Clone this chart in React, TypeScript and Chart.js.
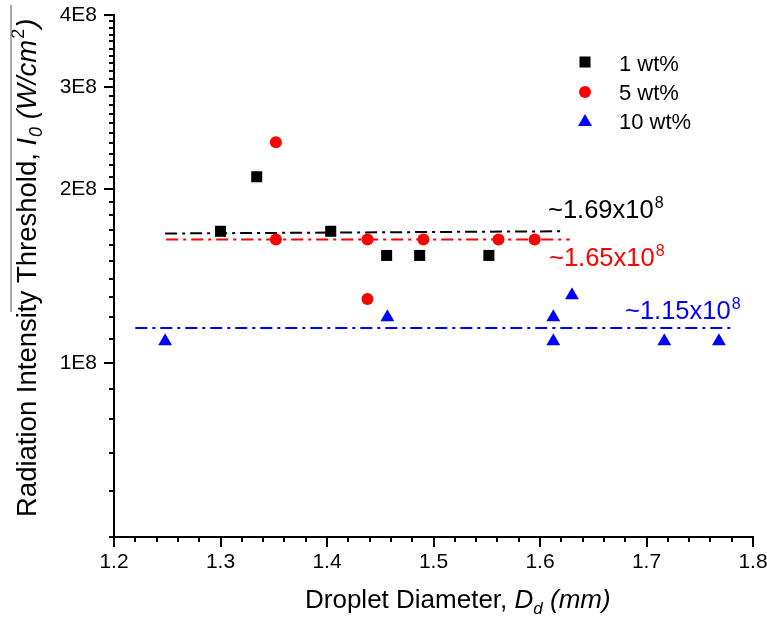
import React, { useEffect, useRef } from "react";
import { Chart, registerables } from "chart.js";

Chart.register(...registerables);

// ---- data ----
const wt1X = [1.3, 1.334, 1.4035, 1.456, 1.487, 1.552];
const wt1Y = [1.69e8, 2.1e8, 1.69e8, 1.535e8, 1.535e8, 1.535e8];

const wt5X = [1.352, 1.352, 1.438, 1.438, 1.4905, 1.561, 1.595];
const wt5Y = [2.41e8, 1.635e8, 1.635e8, 1.29e8, 1.635e8, 1.635e8, 1.635e8];

const wt10X = [1.248, 1.4567, 1.6125, 1.6125, 1.63, 1.7167, 1.768];
const wt10Y = [1.09e8, 1.2e8, 1.2e8, 1.09e8, 1.31e8, 1.09e8, 1.09e8];

const fit1X = [1.248, 1.619];
const fit1Y = [1.675e8, 1.69e8];
const fit5X = [1.249, 1.628];
const fit5Y = [1.635e8, 1.635e8];
const fit10X = [1.22, 1.781];
const fit10Y = [1.15e8, 1.15e8];

const seriesNames = ["1 wt%", "5 wt%", "10 wt%"];
const fitLabels = ["~1.69x10", "~1.65x10", "~1.15x10"];
const fitExponent = "8";

const xMajorTicks = [1.2, 1.3, 1.4, 1.5, 1.6, 1.7, 1.8];
const yMajorTicks = [1e8, 2e8, 3e8, 4e8];
const yTickLabels = ["1E8", "2E8", "3E8", "4E8"];
const yMinorTicks = [
  5e7, 6e7, 7e7, 8e7, 9e7, 1.1e8, 1.2e8, 1.3e8, 1.4e8, 1.5e8, 1.6e8, 1.7e8,
  1.8e8, 1.9e8, 2.1e8, 2.2e8, 2.3e8, 2.4e8, 2.5e8, 2.6e8, 2.7e8, 2.8e8, 2.9e8,
  3.1e8, 3.2e8, 3.3e8, 3.4e8, 3.5e8, 3.6e8, 3.7e8, 3.8e8, 3.9e8,
];

const FONT = "'Liberation Sans', Arial, Helvetica, sans-serif";
const BLACK = "#000000";
const RED = "#ff0000";
const BLUE = "#0000ff";

const toPts = (xs: number[], ys: number[]) => xs.map((x, i) => ({ x, y: ys[i] }));

const decorPlugin = {
  id: "decor",
  afterDraw(chart: any) {
    const ctx = chart.ctx as CanvasRenderingContext2D;
    const xs = chart.scales.x;
    const ys = chart.scales.y;
    const area = chart.chartArea;
    ctx.save();

    // tick marks (outward)
    ctx.strokeStyle = BLACK;
    ctx.lineWidth = 2;
    ctx.beginPath();
    xMajorTicks.forEach((v) => {
      const px = Math.round(xs.getPixelForValue(v));
      ctx.moveTo(px, area.bottom);
      ctx.lineTo(px, area.bottom + 10);
    });
    for (let i = 0; i < 30; i++) {
      const v = 1.2 + i * 0.02;
      if (i % 5 === 0) continue;
      const px = Math.round(xs.getPixelForValue(v));
      ctx.moveTo(px, area.bottom);
      ctx.lineTo(px, area.bottom + 5);
    }
    yMajorTicks.forEach((v) => {
      const py = Math.round(ys.getPixelForValue(v));
      ctx.moveTo(area.left, py);
      ctx.lineTo(area.left - 10, py);
    });
    yMinorTicks.forEach((v) => {
      const py = Math.round(ys.getPixelForValue(v));
      ctx.moveTo(area.left, py);
      ctx.lineTo(area.left - 5, py);
    });
    ctx.stroke();

    // legend
    const lx = 585;
    ctx.fillStyle = BLACK;
    ctx.fillRect(lx - 5.5, 62 - 5.5, 11, 11);
    ctx.fillStyle = RED;
    ctx.beginPath();
    ctx.arc(lx, 92, 6, 0, Math.PI * 2);
    ctx.fill();
    ctx.fillStyle = BLUE;
    ctx.beginPath();
    ctx.moveTo(lx, 114);
    ctx.lineTo(lx + 7, 126);
    ctx.lineTo(lx - 7, 126);
    ctx.closePath();
    ctx.fill();
    ctx.fillStyle = BLACK;
    ctx.font = `22px ${FONT}`;
    ctx.textBaseline = "alphabetic";
    ctx.textAlign = "left";
    ctx.fillText(seriesNames[0], 619, 71);
    ctx.fillText(seriesNames[1], 619, 100);
    ctx.fillText(seriesNames[2], 619, 129);

    // fit labels with superscript
    const drawSci = (txt: string, x: number, y: number, color: string) => {
      ctx.fillStyle = color;
      ctx.font = `25.5px ${FONT}`;
      ctx.fillText(txt, x, y);
      const w = ctx.measureText(txt).width;
      ctx.font = `16px ${FONT}`;
      ctx.fillText(fitExponent, x + w + 1, y - 10);
    };
    drawSci(fitLabels[0], 548, 218, BLACK);
    drawSci(fitLabels[1], 549, 266, RED);
    drawSci(fitLabels[2], 625, 319, BLUE);

    // x axis title
    ctx.fillStyle = BLACK;
    let cx = 305;
    const by = 608;
    ctx.font = `26px ${FONT}`;
    const t1 = "Droplet Diameter, ";
    ctx.fillText(t1, cx, by);
    cx += ctx.measureText(t1).width;
    ctx.font = `italic 26px ${FONT}`;
    ctx.fillText("D", cx, by);
    cx += ctx.measureText("D").width;
    ctx.font = `italic 17px ${FONT}`;
    ctx.fillText("d", cx, by + 6);
    cx += ctx.measureText("d").width;
    ctx.font = `italic 26px ${FONT}`;
    ctx.fillText(" (mm)", cx, by);

    // y axis title (rotated)
    ctx.save();
    ctx.translate(36, 517);
    ctx.rotate(-Math.PI / 2);
    let tx = 0;
    ctx.font = `27.5px ${FONT}`;
    const y1 = "Radiation Intensity Threshold, ";
    ctx.fillText(y1, tx, 0);
    tx += ctx.measureText(y1).width;
    ctx.font = `italic 27.5px ${FONT}`;
    ctx.fillText("I", tx, 0);
    tx += ctx.measureText("I").width + 1;
    ctx.font = `italic 18px ${FONT}`;
    ctx.fillText("0", tx, 6);
    tx += ctx.measureText("0").width;
    ctx.font = `italic 27.5px ${FONT}`;
    ctx.fillText(" (W/cm", tx, 0);
    tx += ctx.measureText(" (W/cm").width + 1;
    ctx.font = `18px ${FONT}`;
    ctx.fillText("2", tx, -12);
    tx += ctx.measureText("2").width + 1;
    ctx.font = `italic 27.5px ${FONT}`;
    ctx.fillText(")", tx, 0);
    ctx.restore();

    // thin grey overline artifact at far left
    ctx.strokeStyle = "#8c8c8c";
    ctx.lineWidth = 1.5;
    ctx.beginPath();
    ctx.moveTo(11, 5);
    ctx.lineTo(11, 312);
    ctx.stroke();

    ctx.restore();
  },
};

export default function App() {
  const ref = useRef<HTMLCanvasElement | null>(null);

  useEffect(() => {
    if (!ref.current) return;
    const dash = [12, 5, 3, 5];
    const chart = new Chart(ref.current, {
      type: "scatter",
      data: {
        datasets: [
          {
            label: seriesNames[0],
            data: toPts(wt1X, wt1Y),
            pointStyle: "rect",
            pointRadius: 7.8,
            backgroundColor: BLACK,
            borderColor: BLACK,
            borderWidth: 0,
            showLine: false,
          },
          {
            label: seriesNames[1],
            data: toPts(wt5X, wt5Y),
            pointStyle: "circle",
            pointRadius: 6,
            backgroundColor: RED,
            borderColor: RED,
            borderWidth: 0,
            showLine: false,
          },
          {
            label: seriesNames[2],
            data: toPts(wt10X, wt10Y),
            pointStyle: "triangle",
            pointRadius: 8,
            backgroundColor: BLUE,
            borderColor: BLUE,
            borderWidth: 0,
            showLine: false,
          },
          {
            label: "fit1",
            data: toPts(fit1X, fit1Y),
            showLine: true,
            pointRadius: 0,
            borderColor: BLACK,
            borderWidth: 2,
            borderDash: dash,
          },
          {
            label: "fit5",
            data: toPts(fit5X, fit5Y),
            showLine: true,
            pointRadius: 0,
            borderColor: RED,
            borderWidth: 2,
            borderDash: dash,
          },
          {
            label: "fit10",
            data: toPts(fit10X, fit10Y),
            showLine: true,
            pointRadius: 0,
            borderColor: BLUE,
            borderWidth: 2,
            borderDash: dash,
          },
        ],
      },
      options: {
        responsive: false,
        animation: false,
        devicePixelRatio: 1,
        layout: { padding: { left: 0, top: 15, right: 14, bottom: 0 } },
        plugins: {
          legend: { display: false },
          tooltip: { enabled: false },
        },
        scales: {
          x: {
            type: "linear",
            position: "bottom",
            min: 1.2,
            max: 1.8,
            grid: { display: false, drawTicks: false },
            border: { display: true, color: BLACK, width: 2 },
            afterBuildTicks: (s: any) => {
              s.ticks = xMajorTicks.map((v) => ({ value: v }));
            },
            ticks: {
              color: BLACK,
              font: { family: FONT, size: 21 },
              padding: 13,
              maxRotation: 0,
              callback: (v: any) => Number(v).toFixed(1),
            },
            afterFit: (s: any) => {
              s.height = 82;
              s.paddingLeft = 0;
              s.paddingRight = 0;
            },
          },
          y: {
            type: "logarithmic",
            position: "left",
            min: 5e7,
            max: 4e8,
            grid: { display: false, drawTicks: false },
            border: { display: true, color: BLACK, width: 2 },
            afterBuildTicks: (s: any) => {
              s.ticks = yMajorTicks.map((v) => ({ value: v }));
            },
            ticks: {
              color: BLACK,
              font: { family: FONT, size: 21 },
              padding: 17,
              callback: (v: any) => {
                const i = yMajorTicks.findIndex((t) => Math.abs(t - Number(v)) < 1);
                return i >= 0 ? yTickLabels[i] : "";
              },
            },
            afterFit: (s: any) => {
              s.width = 114;
              s.paddingTop = 0;
              s.paddingBottom = 0;
            },
          },
        },
      },
      plugins: [decorPlugin],
    } as any);
    return () => chart.destroy();
  }, []);

  return (
    <div style={{ position: "absolute", left: 0, top: 0, width: 767, height: 619, background: "#fff" }}>
      <canvas ref={ref} width={767} height={619} style={{ display: "block", width: 767, height: 619 }} />
    </div>
  );
}
